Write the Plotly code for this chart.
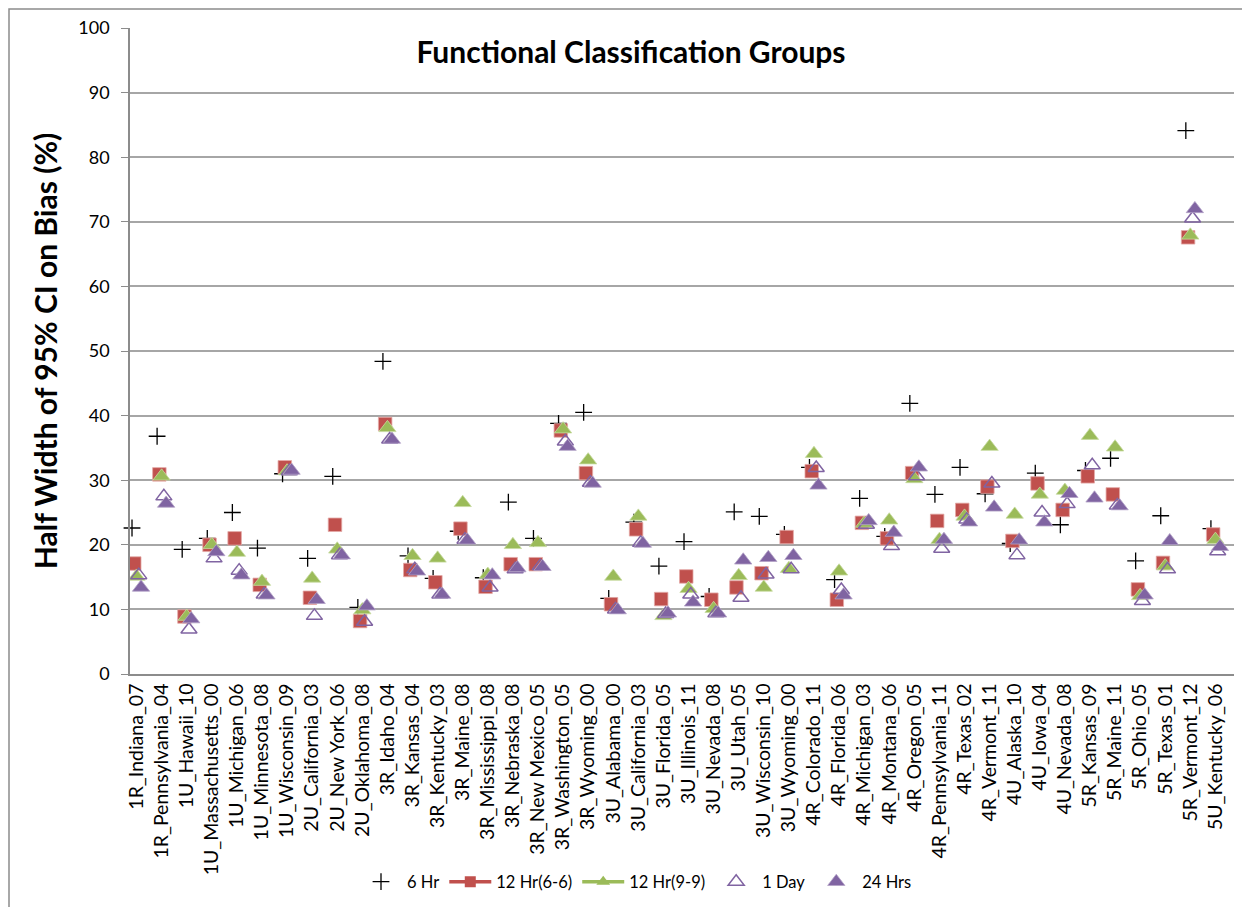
import plotly.graph_objects as go

# categories (x axis)
sites = [
    "1R_Indiana_07", "1R_Pennsylvania_04", "1U_Hawaii_10", "1U_Massachusetts_00",
    "1U_Michigan_06", "1U_Minnesota_08", "1U_Wisconsin_09", "2U_California_03",
    "2U_New York_06", "2U_Oklahoma_08", "3R_Idaho_04", "3R_Kansas_04",
    "3R_Kentucky_03", "3R_Maine_08", "3R_Mississippi_08", "3R_Nebraska_08",
    "3R_New Mexico_05", "3R_Washington_05", "3R_Wyoming_00", "3U_Alabama_00",
    "3U_California_03", "3U_Florida_05", "3U_Illinois_11", "3U_Nevada_08",
    "3U_Utah_05", "3U_Wisconsin_10", "3U_Wyoming_00", "4R_Colorado_11",
    "4R_Florida_06", "4R_Michigan_03", "4R_Montana_06", "4R_Oregon_05",
    "4R_Pennsylvania_11", "4R_Texas_02", "4R_Vermont_11", "4U_Alaska_10",
    "4U_Iowa_04", "4U_Nevada_08", "5R_Kansas_09", "5R_Maine_11",
    "5R_Ohio_05", "5R_Texas_01", "5R_Vermont_12", "5U_Kentucky_06",
]

hr6 = [22.6, 36.8, 19.3, 21.0, 25.0, 19.5, 31.0, 17.9, 30.6, 10.3, 48.4, 18.3,
       14.8, 22.1, 14.9, 26.6, 21.0, 38.8, 40.5, 11.7, 23.5, 16.7, 20.5, 12.0,
       25.1, 24.4, 21.6, 32.0, 14.6, 27.2, 21.3, 41.9, 27.8, 32.0, 27.9, 20.2,
       31.1, 23.1, 31.5, 33.4, 17.5, 24.5, 84.1, 22.5]

hr12_66 = [17.1, 30.9, 8.9, 20.0, 21.0, 13.8, 32.0, 11.8, 23.1, 8.2, 38.7, 16.1,
           14.2, 22.5, 13.5, 17.0, 17.0, 37.7, 31.1, 10.8, 22.4, 11.6, 15.1, 11.5,
           13.4, 15.6, 21.2, 31.4, 11.5, 23.4, 21.0, 31.1, 23.7, 25.4, 29.0, 20.6,
           29.5, 25.4, 30.6, 27.8, 13.1, 17.2, 67.6, 21.6]

hr12_99 = [15.1, 30.6, 8.9, 20.0, 18.8, 14.3, 31.4, 14.8, 19.3, 9.9, 38.1, 18.3,
           17.9, 26.5, 15.4, 20.0, 20.3, 37.9, 33.1, 15.1, 24.4, 9.0, 13.2, 10.1,
           15.2, 13.4, 16.3, 34.1, 15.9, 23.3, 23.8, 30.2, 20.8, 24.4, 35.2, 24.7,
           27.8, 28.4, 36.9, 35.1, 12.1, 16.7, 67.9, 20.8]

day1 = [15.3, 27.5, 6.9, 17.9, 16.0, 12.3, 31.4, 9.0, 18.4, 8.1, 36.3, 16.2,
        12.3, 20.8, 13.4, 16.2, 16.7, 36.0, 29.6, 10.0, 20.3, 9.3, 12.3, 9.4,
        11.8, 15.4, 16.2, 31.9, 13.0, 23.1, 19.8, 30.6, 19.4, 23.9, 29.5, 18.4,
        25.0, 26.3, 32.3, 26.1, 11.3, 16.2, 70.5, 19.0]

hrs24 = [13.4, 26.4, 8.5, 18.9, 15.3, 12.2, 31.5, 11.5, 18.4, 10.5, 36.3, 15.9,
         12.3, 20.7, 15.3, 16.4, 16.6, 35.2, 29.5, 9.9, 20.2, 9.4, 11.1, 9.4,
         17.6, 18.0, 18.3, 29.2, 12.2, 23.7, 21.9, 32.0, 20.8, 23.5, 25.8, 20.7,
         23.5, 27.9, 27.2, 26.0, 12.2, 20.6, 72.0, 19.7]

y_ticks = [0, 10, 20, 30, 40, 50, 60, 70, 80, 90, 100]

RED = "#C0504D"
GREEN = "#9BBB59"
PURPLE = "#8064A2"
FONT = "Lato"

# page body has an 8px margin, so the figure is laid out 8px up/left
L, T, W, H = 122, 20, 1104, 646

fig = go.Figure()

# ==========================
# series (markers only)
# ==========================

fig.add_trace(go.Scatter(
    x=sites, y=hr6, name="6 Hr", mode="markers", offsetgroup="a",
    marker=dict(symbol="cross-thin-open", size=12, color="black",
                line=dict(color="black", width=1.3)),
    cliponaxis=False,
    legendrank=1,
))

fig.add_trace(go.Scatter(
    x=sites, y=hr12_66, name="12 Hr(6-6)", mode="markers", offsetgroup="b",
    marker=dict(symbol="square", size=13.5, color=RED,
                line=dict(color="#E3A9A7", width=0.8)),
    showlegend=False,
))

fig.add_trace(go.Scatter(
    x=sites, y=hr12_99, name="12 Hr(9-9)", mode="markers", offsetgroup="c",
    marker=dict(symbol="triangle-up", size=15, color=GREEN,
                line=dict(color="#C7DAA0", width=0.8)),
    showlegend=False,
))

fig.add_trace(go.Scatter(
    x=sites, y=day1, name="1 Day", mode="markers", offsetgroup="d",
    marker=dict(symbol="triangle-up-open", size=14, color=PURPLE,
                line=dict(color=PURPLE, width=1.5)),
    legendrank=4,
))

fig.add_trace(go.Scatter(
    x=sites, y=hrs24, name="24 Hrs", mode="markers", offsetgroup="e",
    marker=dict(symbol="triangle-up", size=15, color=PURPLE,
                line=dict(color="#B3A2C7", width=0.8)),
    legendrank=5,
))

# legend entries that show line + marker like the original
fig.add_trace(go.Scatter(
    x=[None], y=[None], name="12 Hr(6-6)", mode="lines+markers", offsetgroup="b",
    line=dict(color=RED, width=3.5),
    marker=dict(symbol="square", size=11, color=RED),
    legendrank=2,
))

fig.add_trace(go.Scatter(
    x=[None], y=[None], name="12 Hr(9-9)", mode="lines+markers", offsetgroup="c",
    line=dict(color=GREEN, width=3.5),
    marker=dict(symbol="triangle-up", size=12, color=GREEN),
    legendrank=3,
))

# ==========================
# layout
# ==========================

fig.update_layout(
    width=1250,
    height=907,
    margin=dict(l=L, r=1250 - L - W, t=T, b=907 - T - H, autoexpand=False),
    paper_bgcolor="white",
    plot_bgcolor="white",
    scattermode="group",
    scattergap=0.55,
    font=dict(family=FONT, color="black", size=16),
    title=dict(
        text="<b>Functional Classification Groups</b>",
        x=623 / 1250, xanchor="center",
        y=1 - 44 / 907, yanchor="middle",
        font=dict(family=FONT, size=30, color="black"),
    ),
    legend=dict(
        orientation="h",
        x=(628 - L) / W, xanchor="center",
        y=1 - (874 - T) / H, yanchor="middle",
        font=dict(family=FONT, size=16.5),
        itemwidth=42,
        traceorder="normal",
    ),
    showlegend=True,
)

fig.update_xaxes(
    type="category",
    range=[-0.26, 43.74],
    automargin=False,
    tickangle=-90,
    tickfont=dict(family=FONT, size=19.5),
    showgrid=False,
    showline=True,
    linecolor="#8C8C8C",
    linewidth=1.5,
    ticks="",
)

fig.update_yaxes(
    range=[0, 100],
    automargin=False,
    tickvals=y_ticks,
    tickfont=dict(family=FONT, size=18),
    ticklabelstandoff=8,
    showgrid=True,
    gridcolor="#A6A6A6",
    gridwidth=1.5,
    showline=True,
    linecolor="#8C8C8C",
    linewidth=1.5,
    ticks="outside",
    ticklen=7,
    tickcolor="#8C8C8C",
    zeroline=False,
    title=dict(
        text="<b>Half Width of 95% CI on Bias (%)</b>",
        font=dict(family=FONT, size=30),
        standoff=12,
    ),
)

# outer chart frame (left and top edges)
fig.add_shape(
    type="rect", xref="paper", yref="paper",
    x0=(1 - L) / W, x1=(1270 - L) / W,
    y0=1 - (930 - T) / H, y1=1 + (T - 1) / H,
    line=dict(color="#8C8C8C", width=1.5),
    fillcolor="rgba(0,0,0,0)",
    layer="below",
)

fig.write_html("out.html")
